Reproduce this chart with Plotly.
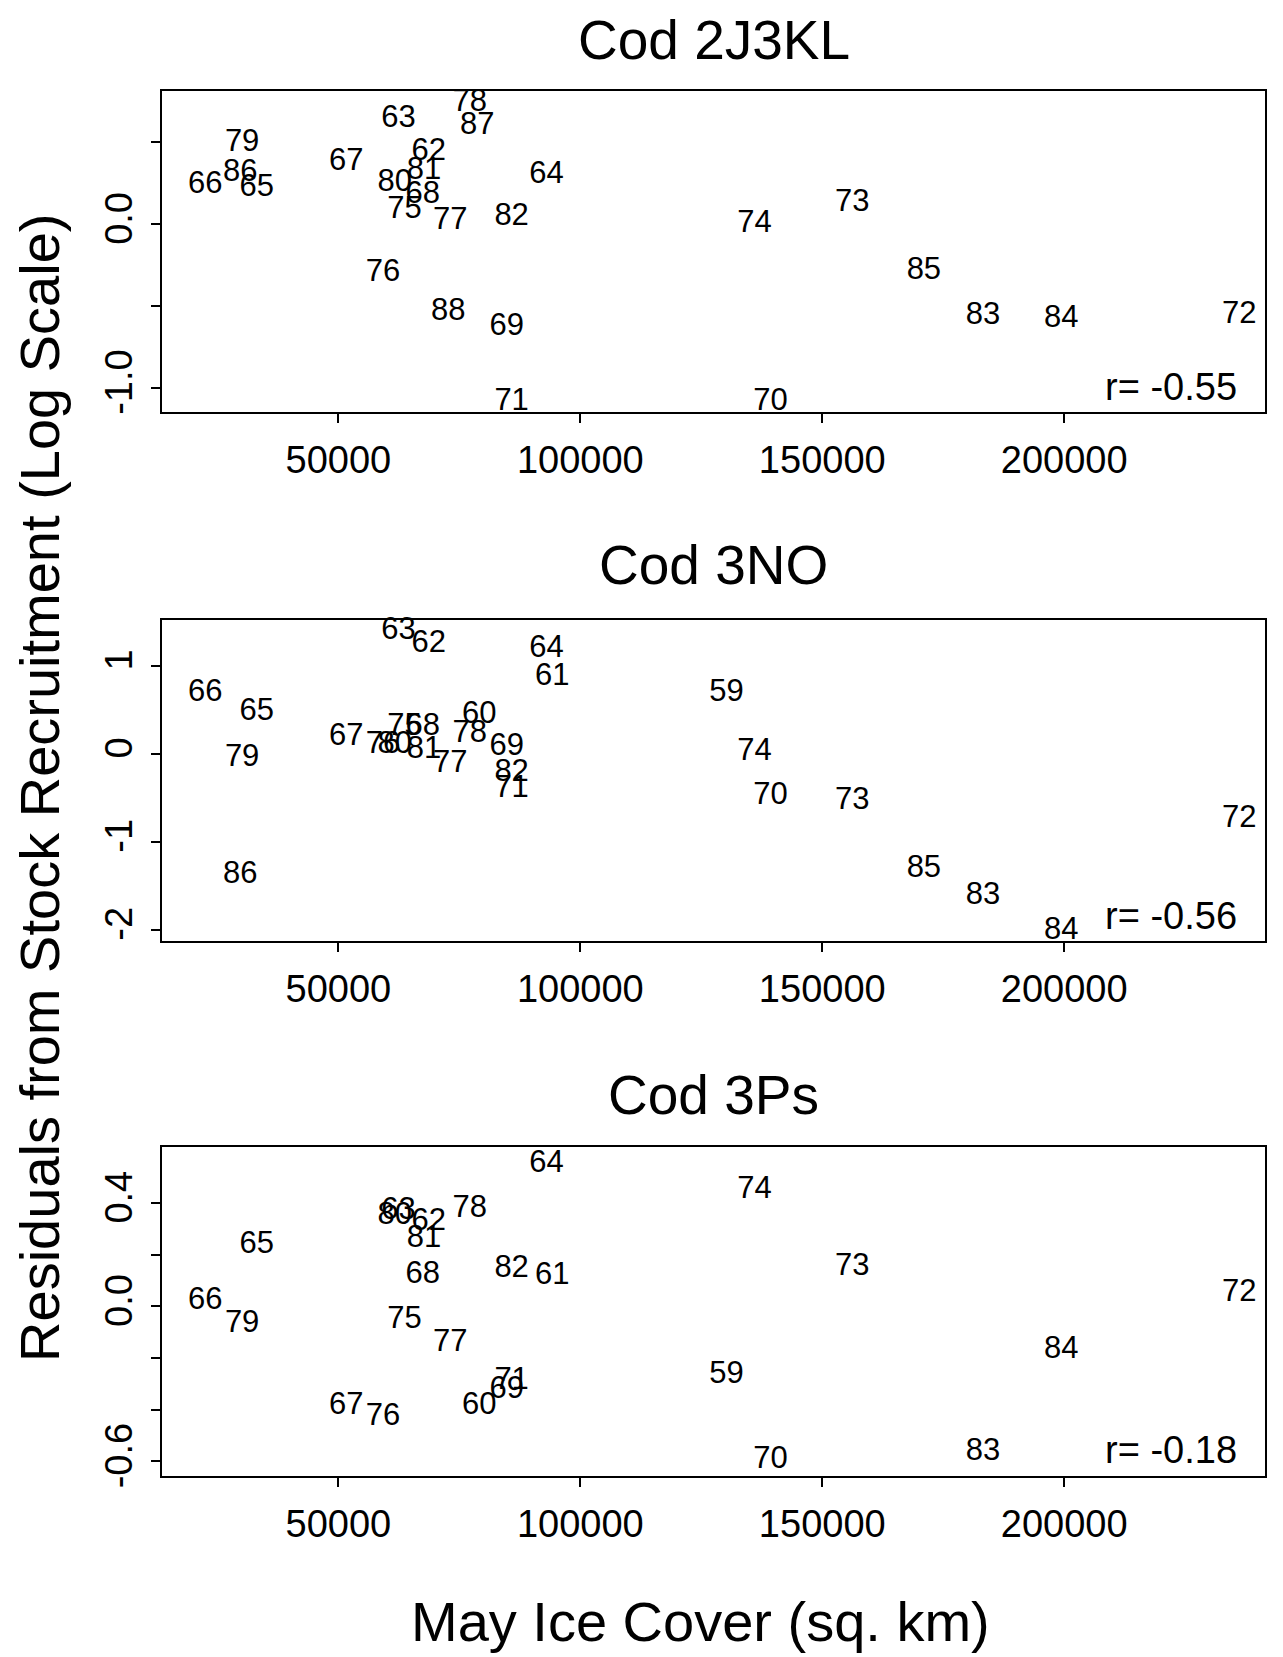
import plotly.graph_objects as go

# ---- data ----
years = list(range(59, 89))
year_labels = [str(y) for y in years]
ice_cover = [130200, 79100, 94200, 68650, 62400, 93000, 33100, 22500, 51600, 67450,
             84800, 139300, 85800, 236200, 156200, 136000, 63650, 59200, 73100, 77150,
             30100, 61650, 67700, 85800, 183200, 199400, 171000, 29700, 78700, 72700]

res_2J3KL = [None, None, None, 0.44, 0.64, 0.30, 0.22, 0.24, 0.375, 0.175,
             -0.63, -1.09, -1.09, -0.557, 0.13, 0.0, 0.085, -0.298, 0.02, 0.738,
             0.496, 0.25, 0.32, 0.042, -0.562, -0.583, -0.285, 0.31, 0.595, -0.54]
res_3NO = [0.68, 0.43, 0.87, 1.24, 1.39, 1.18, 0.466, 0.68, 0.187, 0.30,
           0.073, -0.489, -0.405, -0.75, -0.538, 0.015, 0.30, 0.09, -0.118, 0.214,
           -0.05, 0.09, 0.034, -0.221, -1.626, -2.02, -1.32, -1.38, None, None]
res_3Ps = [-0.266, -0.387, 0.117, 0.326, 0.368, 0.55, 0.235, 0.019, -0.387, 0.12,
           -0.324, -0.597, -0.292, 0.051, 0.152, 0.45, -0.055, -0.431, -0.142, 0.374,
           -0.07, 0.349, 0.26, 0.142, -0.567, -0.171, None, None, None, None]

panel_titles = ["Cod 2J3KL", "Cod 3NO", "Cod 3Ps"]
r_values = ["-0.55", "-0.56", "-0.18"]
panel_series = [res_2J3KL, res_3NO, res_3Ps]

x_tickvals = [50000, 100000, 150000, 200000]
y_tickvals = [[-1.0, -0.5, 0.0, 0.5], [-2, -1, 0, 1], [-0.6, -0.4, -0.2, 0.0, 0.2, 0.4]]
y_ticktext = [["-1.0", "", "0.0", ""], ["-2", "-1", "0", "1"], ["-0.6", "", "", "0.0", "", "0.4"]]
y_ranges = [[-1.148, 0.813], [-2.13, 1.518], [-0.657, 0.616]]
x_range = [13540, 241500]

FONT = "Liberation Sans, Arial, Helvetica, sans-serif"
domains = [[0.7682, 1.0], [0.3863, 0.6181], [0.0, 0.2375]]
title_y = [1.0368, 0.6578, 0.2751]

fig = go.Figure()
for i, res in enumerate(panel_series):
    xs, ys, ts = [], [], []
    for x, y, t in zip(ice_cover, res, year_labels):
        if y is not None:
            xs.append(x); ys.append(y); ts.append(t)
    sfx = "" if i == 0 else str(i + 1)
    fig.add_trace(go.Scatter(
        x=xs, y=ys, text=ts, mode="text", textposition="middle center",
        textfont=dict(family=FONT, size=31, color="black"),
        cliponaxis=False, showlegend=False,
        xaxis="x" + sfx, yaxis="y" + sfx))

    axis_common = dict(showline=True, linecolor="black", linewidth=2, mirror=True,
                       ticks="outside", ticklen=9, tickwidth=2, tickcolor="black",
                       showgrid=False, zeroline=False, automargin=False,
                       tickfont=dict(family=FONT, size=38, color="black"))
    fig.layout["xaxis" + sfx] = dict(axis_common, range=x_range, tickvals=x_tickvals,
                                      ticktext=[str(v) for v in x_tickvals],
                                      anchor="y" + sfx, domain=[0, 1],
                                      ticklabelstandoff=4)
    fig.layout["yaxis" + sfx] = dict(axis_common, range=y_ranges[i], tickvals=y_tickvals[i],
                                      ticktext=y_ticktext[i], tickangle=-90,
                                      anchor="x" + sfx, domain=domains[i],
                                      ticklabelstandoff=4)
    fig.add_annotation(text=panel_titles[i], xref="paper", yref="paper",
                       x=0.5, y=title_y[i], xanchor="center", yanchor="middle",
                       showarrow=False, font=dict(family=FONT, size=55, color="black"))
    fig.add_annotation(text="r= " + r_values[i], xref="x" + sfx + " domain",
                       yref="y" + sfx + " domain", x=0.976, y=0.078,
                       xanchor="right", yanchor="middle", showarrow=False,
                       font=dict(family=FONT, size=38, color="black"))

fig.add_annotation(text="Residuals from Stock Recruitment (Log Scale)", xref="paper",
                   yref="paper", x=-0.1106, y=0.4968, textangle=-90,
                   xanchor="center", yanchor="middle", showarrow=False,
                   font=dict(family=FONT, size=56, color="black"))
fig.add_annotation(text="May Ice Cover (sq. km)", xref="paper", yref="paper",
                   x=0.4878, y=-0.1054, xanchor="center", yanchor="middle",
                   showarrow=False, font=dict(family=FONT, size=56, color="black"))

# browser body margin (8px) shifts the figure; compensate in the margins
fig.update_layout(width=1283, height=1657, plot_bgcolor="white", paper_bgcolor="white",
                  margin=dict(l=154, r=26, t=83, b=189), showlegend=False)

fig.write_html("out.html")
